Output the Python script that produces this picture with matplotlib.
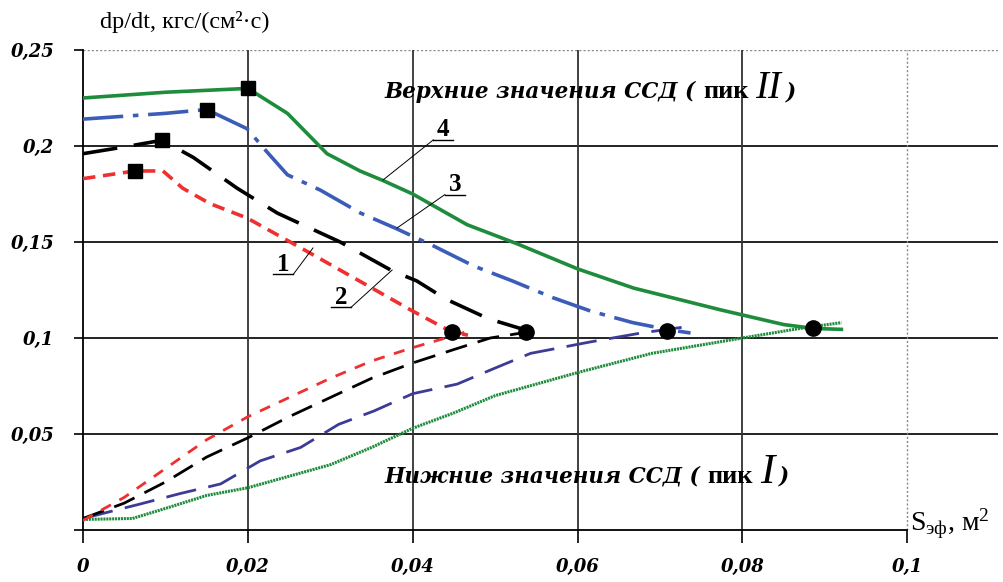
import matplotlib
matplotlib.use('Agg')
import matplotlib.pyplot as plt

# --- data ---

# upper branches (peak II)
s_green_up = [0, 0.005, 0.01, 0.015, 0.02, 0.0248, 0.0296, 0.0336, 0.0364, 0.04, 0.0466, 0.0527, 0.06, 0.0668, 0.0774, 0.085, 0.0886, 0.092]
v_green_up = [0.225, 0.2265, 0.228, 0.229, 0.230, 0.217, 0.196, 0.187, 0.182, 0.175, 0.159, 0.149, 0.136, 0.126, 0.1146, 0.107, 0.105, 0.1045]

s_blue_up = [0, 0.005, 0.01, 0.015, 0.0199, 0.0223, 0.0248, 0.0288, 0.0337, 0.038, 0.0425, 0.0474, 0.0521, 0.057, 0.0616, 0.0667, 0.0708, 0.0737]
v_blue_up = [0.214, 0.2155, 0.217, 0.219, 0.209, 0.197, 0.185, 0.177, 0.165, 0.157, 0.148, 0.1375, 0.1297, 0.121, 0.114, 0.108, 0.1045, 0.1026]

s_black_up = [0, 0.005, 0.0096, 0.0134, 0.0187, 0.0236, 0.0312, 0.0375, 0.0405, 0.044, 0.0492, 0.0538, 0.0555]
v_black_up = [0.196, 0.1995, 0.203, 0.194, 0.178, 0.165, 0.150, 0.135, 0.1297, 0.1203, 0.110, 0.104, 0.1036]

s_red_up = [0, 0.0063, 0.0097, 0.0121, 0.0154, 0.0199, 0.0264, 0.04, 0.0448, 0.0467]
v_red_up = [0.183, 0.187, 0.187, 0.178, 0.170, 0.1625, 0.147, 0.114, 0.103, 0.1015]

# lower branches (peak I)
s_red_lo = [0, 0.005, 0.01, 0.015, 0.02, 0.025, 0.03, 0.035, 0.04, 0.0448, 0.0467]
v_red_lo = [0.005, 0.017, 0.032, 0.047, 0.059, 0.069, 0.079, 0.088, 0.095, 0.101, 0.1035]

s_black_lo = [0, 0.005, 0.01, 0.015, 0.02, 0.025, 0.03, 0.035, 0.04, 0.045, 0.0494, 0.0538, 0.0555]
v_black_lo = [0.006, 0.014, 0.025, 0.038, 0.048, 0.059, 0.069, 0.079, 0.087, 0.094, 0.1, 0.103, 0.104]

s_blue_lo = [0, 0.0069, 0.0118, 0.0167, 0.0215, 0.0264, 0.031, 0.0353, 0.04, 0.0454, 0.0498, 0.0543, 0.0616, 0.0677, 0.0734]
v_blue_lo = [0.006, 0.0135, 0.019, 0.024, 0.036, 0.043, 0.055, 0.062, 0.071, 0.076, 0.084, 0.092, 0.098, 0.1026, 0.106]

s_green_lo = [0, 0.006, 0.0102, 0.015, 0.02, 0.025, 0.03, 0.035, 0.04, 0.045, 0.05, 0.06, 0.069, 0.08, 0.087, 0.092]
v_green_lo = [0.0055, 0.006, 0.0115, 0.018, 0.022, 0.028, 0.034, 0.043, 0.053, 0.061, 0.070, 0.082, 0.092, 0.100, 0.105, 0.108]

# markers: peaks (squares) and branch meeting points (circles)
peak_s = [0.0063, 0.0096, 0.015, 0.02]
peak_v = [0.187, 0.203, 0.219, 0.230]
cross_s = [0.0448, 0.0538, 0.0708, 0.0886]
cross_v = [0.103, 0.103, 0.1035, 0.105]

x_ticks = [0, 0.02, 0.04, 0.06, 0.08, 0.1]
x_labels = ['0', '0,02', '0,04', '0,06', '0,08', '0,1']
y_ticks = [0, 0.05, 0.1, 0.15, 0.2, 0.25]
y_labels = ['', '0,05', '0,1', '0,15', '0,2', '0,25']

# curve numbers: label, text pos, leader end on curve
curve_ids = ['1', '2', '3', '4']
id_pos = [(0.0243, 0.1339), (0.0313, 0.1167), (0.0451, 0.1755), (0.0437, 0.204)]
id_leader = [(0.0279, 0.1469), (0.0375, 0.1354), (0.0381, 0.1573), (0.0364, 0.1823)]
id_side = ['right', 'right', 'left', 'left']

plt.rcParams['font.family'] = ['Liberation Serif', 'DejaVu Serif']
plt.rcParams['mathtext.fontset'] = 'custom'
plt.rcParams['mathtext.rm'] = 'Liberation Serif'
plt.rcParams['mathtext.it'] = 'Liberation Serif:italic'
plt.rcParams['mathtext.bf'] = 'Liberation Serif:bold'
plt.rcParams['lines.scale_dashes'] = False

W, H = 1004, 582
GREEN = '#1e8c3c'
BLUE = '#3b5cb8'
NAVY = '#3c3c96'
RED = '#ee3030'
WIDE = ['DejaVu Serif']

fig = plt.figure(figsize=(W / 100, H / 100), dpi=100)
ax = fig.add_axes([83 / W, (H - 530) / H, 915 / W, 480 / H])
ax.set_xlim(0, 0.111)
ax.set_ylim(0, 0.25)

# grid
for yv in [0.05, 0.1, 0.15, 0.2]:
    ax.axhline(yv, color='#111111', lw=1.3, zorder=1)
ax.axhline(0.25, color='#888888', lw=1.0, ls=(0, (1.5, 1.5)), zorder=1)
for xv in [0.02, 0.04, 0.06, 0.08]:
    ax.axvline(xv, color='#333333', lw=1.3, zorder=1)
ax.plot([0.1, 0.1], [0, 0.25], color='#888888', lw=1.0, ls=(0, (1.5, 1.5)), zorder=1)

for sp in ['top', 'right']:
    ax.spines[sp].set_visible(False)
ax.spines['bottom'].set_bounds(0, 0.1)
ax.spines['bottom'].set_linewidth(1.3)
ax.spines['left'].set_linewidth(1.3)

ax.set_xticks(x_ticks)
ax.set_xticklabels(x_labels)
ax.set_yticks(y_ticks)
ax.set_yticklabels(y_labels)
ax.tick_params(axis='x', direction='out', length=9, width=1.2, pad=11)
ax.tick_params(axis='y', direction='out', length=6.5, width=1.2, pad=14)
for lab in ax.get_xticklabels() + ax.get_yticklabels():
    lab.set_family(WIDE)
    lab.set_fontsize(13)
    lab.set_fontweight('bold')
    lab.set_fontstyle('italic')

# lower branches
ax.plot(s_green_lo, v_green_lo, color=GREEN, lw=2.2, ls=(0, (1.5, 0.6)), zorder=3)
ax.plot(s_blue_lo, v_blue_lo, color=NAVY, lw=2.0, ls=(0, (22, 9)), zorder=3)
ax.plot(s_black_lo, v_black_lo, color='black', lw=2.0, ls=(0, (16, 8)), zorder=3)
ax.plot(s_red_lo, v_red_lo, color=RED, lw=2.0, ls=(0, (8, 7)), zorder=3)

# upper branches
ax.plot(s_green_up, v_green_up, color=GREEN, lw=2.6, zorder=4)
ax.plot(s_blue_up, v_blue_up, color=BLUE, lw=2.6, ls=(0, (29, 7, 4, 7)), zorder=4)
ax.plot(s_black_up, v_black_up, color='black', lw=2.6, ls=(0, (25, 12)), zorder=4)
ax.plot(s_red_up, v_red_up, color=RED, lw=2.6, ls=(0, (9, 5.5)), zorder=4)

ax.plot(peak_s, peak_v, ls='none', marker='s', ms=10, color='black', zorder=6)
ax.plot(cross_s, cross_v, ls='none', marker='o', ms=11, color='black', zorder=6)

# curve numbers with underline and leader
for lab, (tx, ty), (lx, ly), side in zip(curve_ids, id_pos, id_leader, id_side):
    ax.text(tx, ty + 0.001, lab, fontsize=18, fontweight='bold', ha='center', va='baseline', zorder=7)
    ax.plot([tx - 0.0012, tx + 0.0012], [ty - 0.0008, ty - 0.0008], color='black', lw=1.0, zorder=7)
    sx = tx + 0.0012 if side == 'right' else tx - 0.0012
    ax.plot([sx, lx], [ty - 0.0008, ly], color='black', lw=0.7, zorder=7)

# axis titles
fig.text(100 / W, 1 - 22 / H, 'dp/dt, кгс/(см²·с)', fontsize=17.5, va='center', ha='left')
fig.text(910 / W, 1 - 531 / H, r'S$_{\mathrm{эф}}$, м$^{2}$', fontsize=20, va='baseline', ha='left')

# annotations built from pieces
renderer = fig.canvas.get_renderer()


def seq_text(x_px, y_px, pieces):
    x = x_px
    for s, props, gap in pieces:
        t = fig.text(x / W, 1 - y_px / H, s, va='baseline', ha='left', **props)
        bb = t.get_window_extent(renderer)
        x = bb.x1 + gap


bi = dict(fontsize=15.5, fontweight='bold', fontstyle='italic', family=WIDE)
bu = dict(fontsize=19, fontweight='bold')
seq_text(385, 98, [('Верхние значения ССД (', bi, 7),
                   ('пик', bu, 7),
                   ('II', dict(fontsize=28, fontstyle='italic'), 4),
                   (')', bi, 0)])
seq_text(385, 483, [('Нижние значения ССД (', bi, 7),
                    ('пик', bu, 7),
                    ('I', dict(fontsize=31, fontstyle='italic'), 4),
                    (')', bi, 0)])

fig.savefig('out.png', dpi=100)
